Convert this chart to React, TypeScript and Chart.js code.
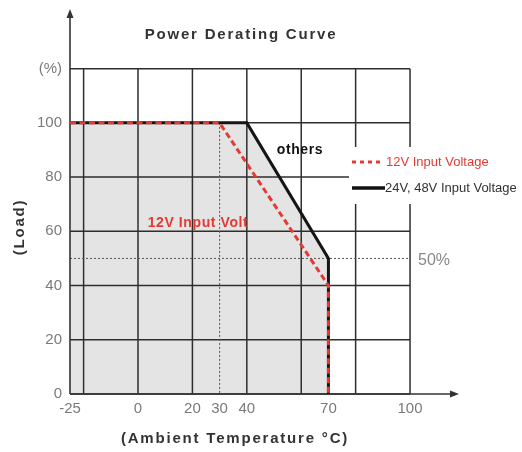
import React, { useEffect, useRef } from 'react';
import { Chart, registerables } from 'chart.js';

Chart.register(...registerables);

// ---- data ----
const X_TICKS = [-25, 0, 20, 30, 40, 70, 100];
const Y_TICKS = [0, 20, 40, 60, 80, 100, 120];
const X_GRID = [-20, 0, 20, 40, 60, 80, 100];
const Y_GRID = [0, 20, 40, 60, 80, 100, 120];
const TEMP_12V = [-25, 30, 70, 70];
const LOAD_12V = [100, 100, 40, 0];
const TEMP_24V = [-25, 40, 70, 70];
const LOAD_24V = [100, 100, 50, 0];
const DERATE_START_12V = 30;
const HALF_LOAD = 50;
const LABEL_12V = '12V Input Voltage';
const LABEL_24V = '24V, 48V Input Voltage';

const FONT = '"Liberation Sans", Arial, sans-serif';
const RED = '#e33b32';

const overlay = {
  id: 'overlay',
  beforeDatasetsDraw(chart: any) {
    const { ctx, scales } = chart;
    const x = scales.x;
    const y = scales.y;
    const gx0 = x.getPixelForValue(-25);
    const gx1 = x.getPixelForValue(100);
    const gy0 = y.getPixelForValue(0);
    const gy1 = y.getPixelForValue(120);
    const seg = (a: number, b: number, c: number, d: number) => {
      ctx.beginPath();
      ctx.moveTo(a, b);
      ctx.lineTo(c, d);
      ctx.stroke();
    };
    ctx.save();
    // grid
    ctx.strokeStyle = '#2e2e2e';
    ctx.lineWidth = 1.5;
    X_GRID.forEach((v) => {
      const px = x.getPixelForValue(v);
      seg(px, gy0, px, gy1);
    });
    Y_GRID.forEach((v) => {
      const py = y.getPixelForValue(v);
      seg(gx0, py, gx1, py);
    });
    // dotted guides
    ctx.strokeStyle = '#555';
    ctx.lineWidth = 1;
    ctx.setLineDash([2, 2]);
    const dx = x.getPixelForValue(DERATE_START_12V);
    seg(dx, y.getPixelForValue(100), dx, gy0);
    const hy = y.getPixelForValue(HALF_LOAD);
    seg(gx0, hy, gx1, hy);
    ctx.setLineDash([]);
    // axes with arrows
    ctx.strokeStyle = '#333';
    ctx.fillStyle = '#333';
    ctx.lineWidth = 1.6;
    const ax = x.left;
    const ay = y.bottom;
    seg(ax, ay, ax, y.top + 6);
    seg(ax, ay, x.right - 6, ay);
    ctx.beginPath();
    ctx.moveTo(ax, y.top);
    ctx.lineTo(ax - 3.5, y.top + 9);
    ctx.lineTo(ax + 3.5, y.top + 9);
    ctx.closePath();
    ctx.fill();
    ctx.beginPath();
    ctx.moveTo(x.right, ay);
    ctx.lineTo(x.right - 9, ay - 3.5);
    ctx.lineTo(x.right - 9, ay + 3.5);
    ctx.closePath();
    ctx.fill();
    // legend background
    ctx.fillStyle = '#ffffff';
    ctx.fillRect(349, 147, 173, 57);
    ctx.restore();
  },
  afterDraw(chart: any) {
    const { ctx, scales } = chart;
    const x = scales.x;
    const y = scales.y;
    ctx.save();
    ctx.textBaseline = 'middle';
    // legend
    ctx.lineWidth = 3;
    ctx.strokeStyle = RED;
    ctx.setLineDash([4, 4]);
    ctx.beginPath();
    ctx.moveTo(352, 162);
    ctx.lineTo(383, 162);
    ctx.stroke();
    ctx.setLineDash([]);
    ctx.strokeStyle = '#111';
    ctx.lineWidth = 3.5;
    ctx.beginPath();
    ctx.moveTo(352, 188);
    ctx.lineTo(385, 188);
    ctx.stroke();
    ctx.font = `13px ${FONT}`;
    ctx.textAlign = 'left';
    ctx.fillStyle = RED;
    ctx.fillText(LABEL_12V, 386, 162);
    ctx.fillStyle = '#333';
    ctx.fillText(LABEL_24V, 385, 188);
    // 50%
    ctx.font = `16px ${FONT}`;
    ctx.fillStyle = '#888';
    ctx.fillText('50%', x.getPixelForValue(100) + 8, y.getPixelForValue(HALF_LOAD) + 2);
    // bold labels
    (ctx as any).letterSpacing = '1.8px';
    ctx.textAlign = 'center';
    ctx.font = `bold 15px ${FONT}`;
    ctx.fillStyle = '#333';
    ctx.fillText('Power Derating Curve', 241, 35);
    ctx.fillText('(Ambient Temperature °C)', 235, 439);
    ctx.save();
    ctx.translate(20, 227);
    ctx.rotate(-Math.PI / 2);
    ctx.fillText('(Load)', 0, 0);
    ctx.restore();
    (ctx as any).letterSpacing = '0.6px';
    ctx.font = `bold 14px ${FONT}`;
    ctx.fillStyle = '#111';
    ctx.fillText('others', 300, 150);
    ctx.fillStyle = RED;
    ctx.fillText('12V Input Volt', 198, 223);
    ctx.restore();
  },
};

export default function App() {
  const ref = useRef<HTMLCanvasElement | null>(null);
  useEffect(() => {
    if (!ref.current) return;
    Chart.defaults.font.family = FONT;
    const chart = new Chart(ref.current, {
      type: 'line',
      data: {
        datasets: [
          {
            label: LABEL_12V,
            data: TEMP_12V.map((t, i) => ({ x: t, y: LOAD_12V[i] })),
            borderColor: RED,
            borderWidth: 3,
            borderDash: [6, 3.5],
            pointRadius: 0,
            tension: 0,
            fill: false,
            order: 0,
          },
          {
            label: LABEL_24V,
            data: TEMP_24V.map((t, i) => ({ x: t, y: LOAD_24V[i] })),
            borderColor: '#151515',
            borderWidth: 3,
            backgroundColor: '#e4e4e4',
            pointRadius: 0,
            tension: 0,
            fill: 'origin',
            order: 1,
          },
        ],
      },
      options: {
        animation: false,
        responsive: false,
        devicePixelRatio: 1,
        layout: { padding: { left: 0, top: 9, right: 63, bottom: 0 } },
        plugins: {
          legend: { display: false },
          tooltip: { enabled: false },
          filler: { drawTime: 'beforeDraw' },
        },
        scales: {
          x: {
            type: 'linear',
            min: -25,
            max: 118,
            grid: { display: false, drawTicks: false },
            border: { display: false },
            afterBuildTicks: (s: any) => {
              s.ticks = X_TICKS.map((v) => ({ value: v }));
            },
            afterFit: (s: any) => {
              s.height = 58;
              s.paddingLeft = 0;
              s.paddingRight = 0;
            },
            ticks: {
              autoSkip: false,
              maxRotation: 0,
              padding: 6,
              color: '#7a7a7a',
              font: { size: 15 },
            },
          },
          y: {
            type: 'linear',
            min: 0,
            max: 142,
            grid: { display: false, drawTicks: false },
            border: { display: false },
            afterBuildTicks: (s: any) => {
              s.ticks = Y_TICKS.map((v) => ({ value: v }));
            },
            afterFit: (s: any) => {
              s.width = 70;
              s.paddingTop = 0;
              s.paddingBottom = 0;
            },
            ticks: {
              autoSkip: false,
              padding: 8,
              color: '#7a7a7a',
              font: { size: 15 },
              callback: (v: any) => (v === 120 ? '(%)' : String(v)),
            },
          },
        },
      } as any,
      plugins: [overlay],
    });
    return () => chart.destroy();
  }, []);
  return (
    <div style={{ position: 'fixed', left: 0, top: 0, width: 522, height: 452, background: '#fff' }}>
      <canvas ref={ref} width={522} height={452} style={{ display: 'block' }} />
    </div>
  );
}
